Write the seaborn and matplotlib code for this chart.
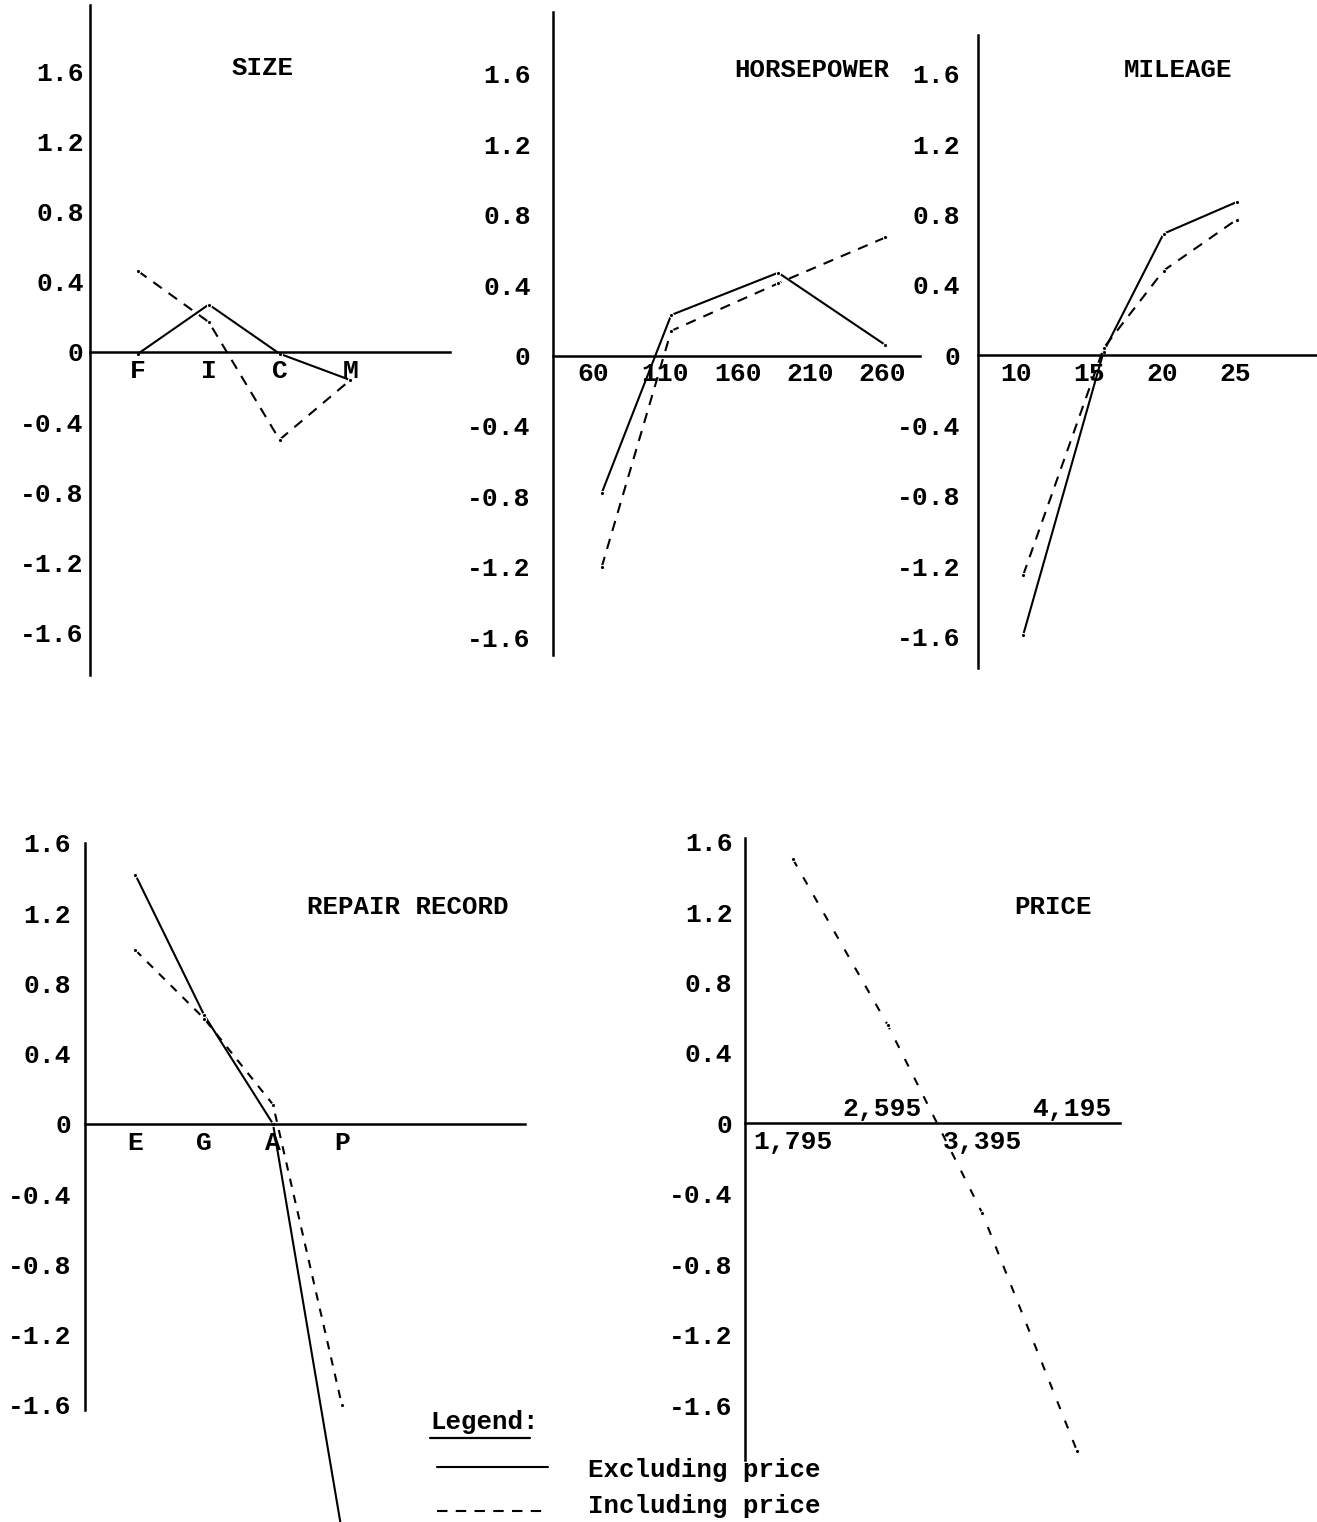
import matplotlib
matplotlib.use("Agg")
import matplotlib.pyplot as plt
from matplotlib.lines import Line2D
import pandas as pd
import seaborn as sns

# ---------------- data ----------------
y_ticks = [1.6, 1.2, 0.8, 0.4, 0, -0.4, -0.8, -1.2, -1.6]
y_tick_labels = ["1.6", "1.2", "0.8", "0.4", "0", "-0.4", "-0.8", "-1.2", "-1.6"]

size_labels = ["F", "I", "C", "M"]
size_excl = [-0.01, 0.27, -0.01, -0.16]
size_incl = [0.46, 0.17, -0.50, -0.16]

hp_ticks = [60, 110, 160, 210, 260]
hp_x = [66, 114, 188, 262]
hp_excl = [-0.78, 0.23, 0.47, 0.06]
hp_incl = [-1.20, 0.14, 0.41, 0.67]

mpg_ticks = [10, 15, 20, 25]
mpg_x = [10.5, 16.0, 20.1, 25.1]
mpg_excl = [-1.59, 0.02, 0.69, 0.87]
mpg_incl = [-1.25, 0.04, 0.48, 0.77]

repair_labels = ["E", "G", "A", "P"]
repair_excl = [1.42, 0.62, 0.0, -2.32]
repair_incl = [0.99, 0.60, 0.11, -1.60]

price_ticks = [1795, 2595, 3395, 4195]
price_tick_labels = ["1,795", "2,595", "3,395", "4,195"]
price_incl = [1.50, 0.56, -0.51, -1.86]

EXCL = "Excluding price"
INCL = "Including price"

# ---------------- style ----------------
sns.set_theme(style="white")
plt.rcParams["font.family"] = ["Liberation Mono", "DejaVu Sans Mono"]
plt.rcParams["font.weight"] = "bold"

W, H = 1317, 1522
fig = plt.figure(figsize=(W / 100, H / 100), dpi=100)
fig.patch.set_facecolor("white")

TICK_FS = 19
TITLE_FS = 18.5


def px_axes(left, right, top, bottom):
    return fig.add_axes([left / W, 1 - bottom / H, (right - left) / W, (bottom - top) / H])


def frame(ax, xlim, ylim, title, tx, ty, ylen=6, ypad=3):
    ax.set_facecolor("white")
    for s in ("top", "right"):
        ax.spines[s].set_visible(False)
    for s in ("left", "bottom"):
        ax.spines[s].set_linewidth(1.8)
        ax.spines[s].set_color("black")
    ax.spines["bottom"].set_position(("data", 0))
    ax.set_xlim(*xlim)
    ax.set_ylim(*ylim)
    ax.set_yticks(y_ticks)
    ax.set_yticklabels(y_tick_labels)
    ax.tick_params(axis="y", direction="out", length=ylen, width=1.2, pad=ypad,
                   labelsize=TICK_FS, colors="black")
    ax.tick_params(axis="x", direction="inout", length=6, width=1.0, pad=2,
                   labelsize=TICK_FS, colors="black")
    ax.set_xlabel("")
    ax.set_ylabel("")
    ax.grid(False)
    ax.text(tx, ty, title, transform=ax.transAxes, ha="center", va="center",
            fontsize=TITLE_FS, fontweight="bold", color="black")


def draw(ax, xs, excl, incl, dash=(5, 4)):
    rows = []
    levels = []
    if excl is not None:
        rows += [(x, y, EXCL) for x, y in zip(xs, excl)]
        levels.append(EXCL)
    if incl is not None:
        rows += [(x, y, INCL) for x, y in zip(xs, incl)]
        levels.append(INCL)
    df = pd.DataFrame(rows, columns=["x", "y", "series"])
    dashes = {EXCL: "", INCL: dash}
    sns.lineplot(data=df, x="x", y="y", style="series", style_order=levels,
                 dashes={k: dashes[k] for k in levels},
                 markers={k: "o" for k in levels},
                 markersize=3, color="black", linewidth=1.5,
                 estimator=None, sort=False, legend=False, ax=ax, clip_on=False)
    ax.set_xlabel("")
    ax.set_ylabel("")


# ---- SIZE ----
ax1 = px_axes(90, 450, 5, 675)
pos = list(range(len(size_labels)))
draw(ax1, pos, size_excl, size_incl)
frame(ax1, (-0.68, 4.41), (-1.84, 1.976), "SIZE", 0.478, 0.906, ylen=4, ypad=0.5)
ax1.set_xticks(pos)
ax1.set_xticklabels(size_labels)

# ---- HORSEPOWER ----
ax2 = px_axes(553, 920, 12, 655)
draw(ax2, hp_x, hp_excl, hp_incl)
frame(ax2, (32.3, 286), (-1.70, 1.95), "HORSEPOWER", 0.706, 0.91, ylen=7, ypad=9)
ax2.set_xticks(hp_ticks)
ax2.set_xticklabels([str(t) for t in hp_ticks])

# ---- MILEAGE ----
ax3 = px_axes(978, 1317, 35, 668)
draw(ax3, mpg_x, mpg_excl, mpg_incl)
frame(ax3, (7.4, 30.6), (-1.78, 1.82), "MILEAGE", 0.59, 0.945, ylen=6, ypad=7)
ax3.set_xticks(mpg_ticks)
ax3.set_xticklabels([str(t) for t in mpg_ticks])

# ---- REPAIR RECORD ----
ax4 = px_axes(85, 525, 843, 1410)
pos = list(range(len(repair_labels)))
draw(ax4, pos, repair_excl, repair_incl, dash=(4, 4))
frame(ax4, (-0.73, 5.66), (-1.63, 1.60), "REPAIR RECORD", 0.734, 0.887, ylen=6, ypad=4)
ax4.set_xticks(pos)
ax4.set_xticklabels(repair_labels)

# ---- PRICE ----
ax5 = px_axes(745, 1120, 838, 1460)
draw(ax5, price_ticks, None, price_incl, dash=(4, 6))
frame(ax5, (1391, 4557), (-1.91, 1.62), "PRICE", 0.821, 0.889, ylen=6, ypad=3)
ax5.set_xticks(price_ticks)
ax5.set_xticklabels([lbl if i % 2 == 0 else "" for i, lbl in enumerate(price_tick_labels)])
for i, (xv, lbl) in enumerate(zip(price_ticks, price_tick_labels)):
    if i % 2 == 1:
        ax5.annotate(lbl, (xv, 0), xytext=(-4, 2), textcoords="offset points",
                     ha="center", va="bottom", fontsize=TICK_FS,
                     fontweight="bold", color="black")

# ---- legend ----
def fx(x):
    return x / W


def fy(y):
    return 1 - y / H


fig.text(fx(430), fy(1422), "Legend:", ha="left", va="center",
         fontsize=TITLE_FS, fontweight="bold", color="black")
fig.add_artist(Line2D([fx(430), fx(530)], [fy(1438), fy(1438)],
                      transform=fig.transFigure, color="black", lw=1.6))
fig.add_artist(Line2D([fx(437), fx(548)], [fy(1467), fy(1467)],
                      transform=fig.transFigure, color="black", lw=1.5))
fig.add_artist(Line2D([fx(437), fx(548)], [fy(1511), fy(1511)],
                      transform=fig.transFigure, color="black", lw=1.5,
                      dashes=(5, 4)))
fig.text(fx(588), fy(1470), EXCL, ha="left", va="center",
         fontsize=TITLE_FS, fontweight="bold", color="black")
fig.text(fx(588), fy(1506), INCL, ha="left", va="center",
         fontsize=TITLE_FS, fontweight="bold", color="black")

fig.savefig("out.png", dpi=100, facecolor="white")
